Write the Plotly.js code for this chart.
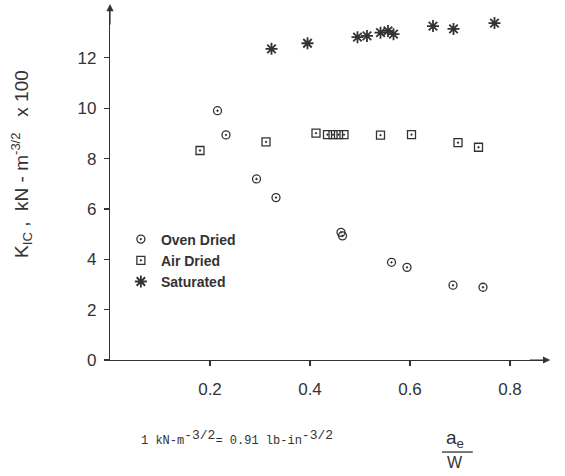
<!DOCTYPE html>
<html>
<head>
<meta charset="utf-8">
<script src="https://cdn.plot.ly/plotly-3.0.1.min.js"></script>
<style>html,body{margin:0;padding:0;background:#fff;}#chart{width:565px;height:476px;}</style>
</head>
<body>
<div id="chart"></div>
<script>
// a_e / W values and K_IC (kN-m^-3/2 x 100)
const ovenX = [0.215, 0.232, 0.293, 0.332, 0.462, 0.465, 0.563, 0.594, 0.686, 0.746];
const ovenY = [9.90, 8.94, 7.19, 6.45, 5.07, 4.93, 3.88, 3.68, 2.97, 2.89];
const airX = [0.180, 0.312, 0.412, 0.435, 0.446, 0.457, 0.468, 0.541, 0.603, 0.696, 0.737];
const airY = [8.32, 8.66, 9.01, 8.95, 8.95, 8.95, 8.95, 8.93, 8.95, 8.63, 8.45];
const satX = [0.323, 0.395, 0.495, 0.514, 0.541, 0.556, 0.567, 0.646, 0.687, 0.769];
const satY = [12.36, 12.58, 12.82, 12.87, 13.00, 13.07, 12.94, 13.26, 13.15, 13.38];
const seriesNames = ['Oven Dried', 'Air Dried', 'Saturated'];
const yTicks = [0, 2, 4, 6, 8, 10, 12];
const xTicks = [0.2, 0.4, 0.6, 0.8];

const ink = '#333333';
const traces = [
  {x: ovenX, y: ovenY, name: seriesNames[0], type: 'scatter', mode: 'markers',
   marker: {symbol: 'circle-dot', size: 8, color: 'rgba(0,0,0,0)', line: {color: ink, width: 1.3}}},
  {x: airX, y: airY, name: seriesNames[1], type: 'scatter', mode: 'markers',
   marker: {symbol: 'square-dot', size: 8, color: 'rgba(0,0,0,0)', line: {color: ink, width: 1.3}}},
  {x: satX, y: satY, name: seriesNames[2], type: 'scatter', mode: 'markers',
   marker: {symbol: 'asterisk-open', size: 10, color: ink, line: {color: ink, width: 1.8}}}
];

const axisFont = {family: 'Liberation Sans, Arial, sans-serif', size: 17, color: ink};
const ann = (o) => Object.assign({xref: 'paper', yref: 'paper', xanchor: 'center', yanchor: 'middle', showarrow: false}, o);
const layout = {
  width: 565, height: 476,
  margin: {l: 110, r: 20, t: 10, b: 116},
  paper_bgcolor: '#fff', plot_bgcolor: '#fff',
  showlegend: true,
  legend: {x: 0.025, y: 0.39, xanchor: 'left', yanchor: 'top', bgcolor: 'rgba(0,0,0,0)',
           font: {family: 'Liberation Sans, Arial, sans-serif', size: 14, color: ink, weight: 'bold'},
           tracegroupgap: 0, itemwidth: 30},
  xaxis: {range: [0, 0.87], tickvals: xTicks, ticktext: xTicks.map(v => v.toFixed(1)),
          showgrid: false, zeroline: false, showline: true, linecolor: ink, linewidth: 1.2,
          ticks: 'outside', ticklen: 5, tickcolor: ink, tickwidth: 1.2,
          ticklabelstandoff: 8, tickfont: axisFont},
  yaxis: {range: [0, 13.9], tickvals: yTicks, showgrid: false, zeroline: false,
          showline: true, linecolor: ink, linewidth: 1.2,
          ticks: 'outside', ticklen: 5, tickcolor: ink, tickwidth: 1.2,
          ticklabelstandoff: 4, tickfont: axisFont},
  xaxis2: {overlaying: 'x', anchor: 'y', range: [0, 0.87], tickvals: xTicks, showticklabels: false,
           showgrid: false, zeroline: false, showline: false, ticks: 'inside', ticklen: 5,
           tickcolor: ink, tickwidth: 1.2},
  yaxis2: {overlaying: 'y', anchor: 'x', range: [0, 13.9], tickvals: yTicks, showticklabels: false,
           showgrid: false, zeroline: false, showline: false, ticks: 'inside', ticklen: 5,
           tickcolor: ink, tickwidth: 1.2},
  annotations: [
    {xref: 'paper', yref: 'paper', x: 0, y: 1.017, ax: 0, ay: 22,
     text: '', showarrow: true, arrowhead: 2, arrowsize: 1.2, arrowwidth: 1.2, arrowcolor: ink},
    {xref: 'paper', yref: 'paper', x: 1.012, y: 0, ax: -22, ay: 0,
     text: '', showarrow: true, arrowhead: 2, arrowsize: 1.2, arrowwidth: 1.2, arrowcolor: ink},
    ann({x: -0.2023, y: 0.56, textangle: -90,
     text: 'K<sub>IC</sub> ,  kN - m<sup><span style="font-size:13px">-3/2</span></sup>   x 100',
     font: {family: 'Liberation Sans, Arial, sans-serif', size: 19, color: ink}}),
    ann({x: 0.291, y: -0.223,
     text: '1 kN-m<sup><span style="font-size:13px">-3/2</span></sup>= 0.91 lb-in<sup><span style="font-size:13px">-3/2</span></sup>',
     font: {family: 'Liberation Mono, Courier New, monospace', size: 12, color: ink}}),
    ann({x: 0.793, y: -0.225,
     text: 'a<sub>e</sub>',
     font: {family: 'Liberation Sans, Arial, sans-serif', size: 19, color: ink}}),
    ann({x: 0.793, y: -0.293,
     text: 'W',
     font: {family: 'Liberation Sans, Arial, sans-serif', size: 16, color: ink}})
  ],
  shapes: [
    {type: 'line', xref: 'paper', yref: 'paper', x0: 0.763, x1: 0.834, y0: -0.263, y1: -0.263,
     line: {color: ink, width: 1.3}}
  ]
};

Plotly.newPlot('chart', traces, layout, {displayModeBar: false, staticPlot: true});
</script>
</body>
</html>
